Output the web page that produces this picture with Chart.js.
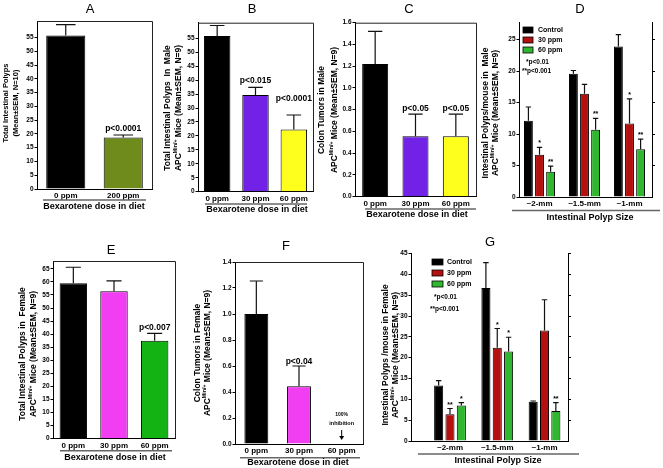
<!DOCTYPE html>
<html><head><meta charset="utf-8">
<script src="https://cdn.jsdelivr.net/npm/chart.js@4/dist/chart.umd.min.js"></script>
<style>
html,body{margin:0;padding:0;background:#fff;}
body{width:663px;height:468px;position:relative;overflow:hidden;}
canvas{position:absolute;}
</style></head><body>
<canvas id="cA"></canvas><canvas id="cB"></canvas><canvas id="cC"></canvas><canvas id="cD"></canvas>
<canvas id="cE"></canvas><canvas id="cF"></canvas><canvas id="cG"></canvas>
<script>
// ---------------- DATA ----------------
const A_cat = ['0 ppm', '200 ppm'];
const A_mean = [55.7, 18.7];
const A_sem = [4.0, 0.9];
const A_p = ['', 'p<0.0001'];

const B_cat = ['0 ppm', '30 ppm', '60 ppm'];
const B_mean = [55.8, 34.7, 22.3];
const B_sem = [3.8, 2.7, 5.2];
const B_p = ['', 'p<0.015', 'p<0.0001'];

const C_cat = ['0 ppm', '30 ppm', '60 ppm'];
const C_mean = [1.22, 0.555, 0.555];
const C_sem = [0.30, 0.205, 0.205];
const C_p = ['', 'p<0.05', 'p<0.05'];

const sizeCat = ['~2-mm', '~1.5-mm', '~1-mm'];
const seriesNames = ['Control', '30 ppm', '60 ppm'];

const D_control = [12.1, 19.6, 23.9];
const D_control_sem = [2.2, 0.5, 1.9];
const D_30 = [6.7, 16.4, 11.7];
const D_30_sem = [1.2, 1.5, 3.9];
const D_60 = [4.0, 10.7, 7.6];
const D_60_sem = [0.9, 1.8, 1.6];
const D_stars = [['', '', ''], ['*', '', '*'], ['**', '**', '**']];
const D_notes = ['*p<0.01', '**p<0.001'];

const E_cat = ['0 ppm', '30 ppm', '60 ppm'];
const E_mean = [59.5, 56.4, 37.5];
const E_sem = [6.1, 4.0, 2.8];
const E_p = ['', '', 'p<0.007'];

const F_cat = ['0 ppm', '30 ppm', '60 ppm'];
const F_mean = [1.0, 0.444, 0];
const F_sem = [0.254, 0.156, null];
const F_p = ['', 'p<0.04', ''];
const F_note = ['100%', 'inhibition'];

const G_control = [13.3, 36.7, 9.4];
const G_control_sem = [1.2, 6.1, 0.2];
const G_30 = [6.4, 22.4, 26.5];
const G_30_sem = [1.4, 4.6, 7.4];
const G_60 = [8.5, 21.5, 7.2];
const G_60_sem = [0.7, 3.4, 2.0];
const G_stars = [['', '', ''], ['**', '*', ''], ['*', '*', '**']];
const G_notes = ['*p<0.01', '**p<0.001'];

const doseTitle = 'Bexarotene dose in diet';
const sizeTitle = 'Intestinal Polyp Size';

// ---------------- STYLE ----------------
const FONT = "'Liberation Sans', Arial, Helvetica, sans-serif";
Chart.defaults.font.family = FONT;
Chart.defaults.animation = false;
const BLACK = '#000000', OLIVE = '#6f8b1c', PURPLE = '#7222e6', YELLOW = '#ffff1e',
      MAGENTA = '#f23ef2', GREEN = '#12b312', RED = '#b4100f', LGREEN = '#2fb82f';

const APC = rest => [{t: 'APC'}, {t: 'Min/+', sup: true}, {t: rest}];
const DECOR = {};

function drawRich(ctx, segs, cx, cy, size) {
  ctx.save();
  ctx.translate(cx, cy);
  ctx.rotate(-Math.PI / 2);
  ctx.textBaseline = 'middle';
  ctx.textAlign = 'left';
  ctx.fillStyle = '#000';
  let total = 0;
  const parts = segs.map(s => {
    const sz = s.sup ? size * 0.62 : size;
    ctx.font = `bold ${sz}px ${FONT}`;
    const w = ctx.measureText(s.t).width;
    total += w;
    return {s, sz, w};
  });
  let x = -total / 2;
  for (const p of parts) {
    ctx.font = `bold ${p.sz}px ${FONT}`;
    ctx.fillText(p.s.t, x, p.s.sup ? -size * 0.38 : 0);
    x += p.w;
  }
  ctx.restore();
}

const decor = {
  id: 'decor',
  afterDatasetsDraw(chart) {
    const o = DECOR[chart.canvas.id];
    if (!o) return;
    const ctx = chart.ctx, ys = chart.scales.y;
    ctx.save();
    chart.data.datasets.forEach((ds, di) => {
      const meta = chart.getDatasetMeta(di);
      meta.data.forEach((el, i) => {
        const v = ds.data[i];
        if (v == null) return;
        const e = ds.sem ? ds.sem[i] : null;
        const yv = ys.getPixelForValue(v);
        let yt = yv;
        if (e != null && e > 0) {
          yt = ys.getPixelForValue(v + e);
          const cw = el.width * o.cap;
          ctx.strokeStyle = '#111';
          ctx.lineWidth = 1.2;
          ctx.beginPath();
          ctx.moveTo(el.x, yv); ctx.lineTo(el.x, yt);
          ctx.moveTo(el.x - cw / 2, yt); ctx.lineTo(el.x + cw / 2, yt);
          ctx.stroke();
        }
        const m = ds.marks ? ds.marks[i] : '';
        if (m) {
          const gap = o.markGaps ? o.markGaps[i] : o.markGap;
          ctx.font = `bold ${o.markSize}px ${FONT}`;
          ctx.fillStyle = '#000';
          ctx.textAlign = 'center';
          ctx.textBaseline = 'alphabetic';
          ctx.fillText(m, el.x, yt - gap);
        }
      });
    });
    ctx.restore();
  },
  afterDraw(chart) {
    const o = DECOR[chart.canvas.id];
    if (!o) return;
    const ctx = chart.ctx, ca = chart.chartArea;
    ctx.save();
    if (o.frame === 'box') {
      ctx.strokeStyle = '#222';
      ctx.lineWidth = 1;
      ctx.beginPath();
      ctx.moveTo(ca.left, ca.top + 0.5);
      ctx.lineTo(ca.right + 0.5, ca.top + 0.5);
      ctx.lineTo(ca.right + 0.5, ca.bottom);
      ctx.stroke();
    }
    ctx.font = `13px ${FONT}`;
    ctx.fillStyle = '#000';
    ctx.textAlign = 'center';
    ctx.textBaseline = 'middle';
    ctx.fillText(o.letter.t, o.letter.x, o.letter.y);
    o.yTitle.lines.forEach((segs, i) => drawRich(ctx, segs, o.yTitle.xs[i], o.yTitle.y, o.yTitle.size));
    ctx.strokeStyle = '#666';
    ctx.lineWidth = 1.5;
    ctx.beginPath();
    ctx.moveTo(o.xTitle.ul[0], o.xTitle.ul[2]);
    ctx.lineTo(o.xTitle.ul[1], o.xTitle.ul[2]);
    ctx.stroke();
    ctx.font = `bold 9px ${FONT}`;
    ctx.fillStyle = '#000';
    ctx.textAlign = 'center';
    ctx.textBaseline = 'middle';
    ctx.fillText(o.xTitle.t, o.xTitle.x, o.xTitle.y);
    if (o.legend) {
      const L = o.legend;
      chart.data.datasets.forEach((ds, i) => {
        const cy = L.y0 + i * L.dy;
        ctx.fillStyle = ds.backgroundColor;
        ctx.fillRect(L.x, cy - L.sh / 2, L.sw, L.sh);
        ctx.strokeStyle = '#000';
        ctx.lineWidth = 0.8;
        ctx.strokeRect(L.x, cy - L.sh / 2, L.sw, L.sh);
        ctx.fillStyle = '#000';
        ctx.font = `bold 7px ${FONT}`;
        ctx.textAlign = 'left';
        ctx.textBaseline = 'middle';
        ctx.fillText(ds.label, L.tx, cy);
      });
    }
    if (o.notes) {
      o.notes.forEach(n => {
        ctx.fillStyle = '#000';
        ctx.font = `bold ${n.size}px ${FONT}`;
        ctx.textAlign = n.align || 'left';
        ctx.textBaseline = 'middle';
        const x = n.xIndex != null ? chart.scales.x.getPixelForValue(n.xIndex) : n.x;
        ctx.fillText(n.t, x, n.y);
      });
    }
    if (o.arrow) {
      const x = chart.scales.x.getPixelForValue(o.arrow.xIndex);
      ctx.strokeStyle = '#000';
      ctx.lineWidth = 1;
      ctx.beginPath();
      ctx.moveTo(x, o.arrow.y0); ctx.lineTo(x, o.arrow.y1 - 3);
      ctx.stroke();
      ctx.fillStyle = '#000';
      ctx.beginPath();
      ctx.moveTo(x - 2.5, o.arrow.y1 - 4); ctx.lineTo(x + 2.5, o.arrow.y1 - 4); ctx.lineTo(x, o.arrow.y1);
      ctx.closePath(); ctx.fill();
    }
    ctx.restore();
  }
};
Chart.register(decor);

function stepFilter(step, skipZero) {
  return s => {
    s.ticks = s.ticks.filter(t => (!skipZero || t.value > 0) &&
      Math.abs(t.value / step - Math.round(t.value / step)) < 1e-6);
  };
}

function mk(p) {
  const cv = document.getElementById(p.id);
  cv.width = p.W; cv.height = p.H;
  Object.assign(cv.style, {left: p.left + 'px', top: p.top + 'px', width: p.W + 'px', height: p.H + 'px'});
  DECOR[p.id] = p.decor;
  const xt = {font: {size: 8, weight: 'bold'}, color: '#000', padding: p.xpad, maxRotation: 0, autoSkip: false};
  const scales = {};
  if (p.linearX) {
    scales.x = {
      type: 'linear', min: p.xmin, max: p.xmax, offset: false,
      afterBuildTicks: s => { s.ticks = p.cats.map((_, i) => ({value: i})); },
      ticks: Object.assign({callback: v => p.cats[v]}, xt),
      grid: {display: false, drawTicks: false},
      border: {display: true, color: '#000', width: 1},
      afterFit: s => { s.height = p.xh; }
    };
  } else {
    scales.x = {
      type: 'category', offset: true, ticks: xt,
      grid: {display: false, drawTicks: false},
      border: {display: true, color: '#000', width: 1},
      afterFit: s => { s.height = p.xh; }
    };
  }
  scales.y = {
    min: 0, max: p.ymax,
    ticks: {stepSize: p.step, font: {size: 6.5, weight: 'bold'}, color: '#000', padding: 1,
            callback: v => p.dec ? v.toFixed(p.dec) : Math.round(v)},
    afterBuildTicks: stepFilter(p.step, false),
    grid: {drawOnChartArea: false, tickLength: 2.5, color: '#000', tickColor: '#000'},
    border: {display: true, color: '#000', width: 1},
    afterFit: s => { s.width = p.yw; }
  };
  if (p.rightAxis) {
    scales.y2 = {
      position: 'right', min: 0, max: p.ymax,
      ticks: {display: false, stepSize: p.step},
      afterBuildTicks: stepFilter(p.step, true),
      grid: {drawOnChartArea: false, tickLength: 3, color: '#000', tickColor: '#000'},
      border: {display: true, color: '#000', width: 1},
      afterFit: s => { s.width = 5; }
    };
  }
  return new Chart(cv, {
    type: 'bar',
    data: {labels: p.labels, datasets: p.datasets},
    options: {
      responsive: false, maintainAspectRatio: false, devicePixelRatio: 1, animation: false,
      layout: {padding: p.pad},
      plugins: {legend: {display: false}, tooltip: {enabled: false}},
      scales
    }
  });
}

function single(values, sem, marks, colors, pct) {
  return [{data: values, sem: sem, marks: marks, backgroundColor: colors, borderColor: '#000',
           borderWidth: 1, categoryPercentage: 1, barPercentage: pct}];
}
function triple(sets, catPct, barPct) {
  return sets.map(s => ({label: s[0], data: s[1], sem: s[2], marks: s[3], backgroundColor: s[4],
    borderColor: '#000', borderWidth: 1, categoryPercentage: catPct, barPercentage: barPct}));
}

// ---------------- PANELS ----------------
mk({id: 'cA', left: 0, top: 0, W: 160, H: 230, pad: {left: 17, right: 8, top: 21, bottom: 27},
  yw: 20, xh: 14, xpad: 2, ymax: 61, step: 5, labels: A_cat,
  datasets: single(A_mean, A_sem, A_p, [BLACK, OLIVE], 0.68),
  decor: {frame: 'box', cap: 0.5, markSize: 8.5, markGap: 4,
    letter: {t: 'A', x: 90, y: 9},
    yTitle: {lines: [[{t: 'Total Intestinal Polyps'}], [{t: '(Mean±SEM, N=10)'}]], xs: [6, 16], y: 103, size: 7.5},
    xTitle: {t: doseTitle, x: 94, y: 207, ul: [43, 146, 200]}}});

mk({id: 'cB', left: 160, top: 0, W: 155, H: 230, pad: {left: 18, right: 2, top: 22.7, bottom: 24.3},
  yw: 20, xh: 14, xpad: 2, ymax: 60.6, step: 5, labels: B_cat,
  datasets: single(B_mean, B_sem, B_p, [BLACK, PURPLE, YELLOW], 0.69),
  decor: {frame: 'box', cap: 0.55, markSize: 8.5, markGaps: [4, 4, 14],
    letter: {t: 'B', x: 92, y: 9},
    yTitle: {lines: [[{t: 'Total Intestinal Polyps  In  Male'}], APC(' Mice (Mean±SEM, N=9)')], xs: [8, 19], y: 108, size: 8.5},
    xTitle: {t: doseTitle, x: 97, y: 210, ul: [45, 147, 204]}}});

mk({id: 'cC', left: 315, top: 0, W: 165, H: 230, pad: {left: 18, right: 4, top: 22.7, bottom: 19.3},
  yw: 22, xh: 14, xpad: 2, ymax: 1.6, step: 0.2, dec: 1, labels: C_cat,
  datasets: single(C_mean, C_sem, C_p, [BLACK, PURPLE, YELLOW], 0.645),
  decor: {frame: 'box', cap: 0.55, markSize: 8.5, markGap: 3,
    letter: {t: 'C', x: 94, y: 9},
    yTitle: {lines: [[{t: 'Colon Tumors in Male'}], APC(' Mice (Mean±SEM, N=9)')], xs: [7, 20], y: 110, size: 8.5},
    xTitle: {t: doseTitle, x: 102, y: 215, ul: [50, 161, 209]}}});

mk({id: 'cD', left: 480, top: 0, W: 183, H: 230, pad: {left: 19, right: 6, top: 22.7, bottom: 19},
  yw: 20, xh: 14, xpad: 2, ymax: 27.7, step: 5, linearX: true, xmin: -0.456, xmax: 2.5,
  cats: sizeCat, labels: [0, 1, 2], rightAxis: true,
  datasets: triple([
    [seriesNames[0], D_control, D_control_sem, D_stars[0], BLACK],
    [seriesNames[1], D_30, D_30_sem, D_stars[1], RED],
    [seriesNames[2], D_60, D_60_sem, D_stars[2], LGREEN]], 0.74, 0.8),
  decor: {frame: 'open', cap: 0.6, markSize: 7, markGap: 2,
    letter: {t: 'D', x: 100, y: 9},
    yTitle: {lines: [[{t: 'Intestinal Polyps/mouse in  Male'}], APC(' Mice (Mean±SEM, N=9)')], xs: [6, 15.5], y: 113, size: 8.5},
    xTitle: {t: sizeTitle, x: 110, y: 217.5, ul: [32, 180, 210.5]},
    legend: {x: 43, y0: 30, dy: 10, sw: 10, sh: 6, tx: 58},
    notes: [{t: D_notes[0], x: 46, y: 62, size: 6.5}, {t: D_notes[1], x: 42, y: 71, size: 6.5}]}});

mk({id: 'cE', left: 0, top: 230, W: 180, H: 238, pad: {left: 33, right: 5, top: 31, bottom: 15.3},
  yw: 20, xh: 14, xpad: 2, ymax: 68, step: 5, labels: E_cat,
  datasets: single(E_mean, E_sem, E_p, [BLACK, MAGENTA, GREEN], 0.675),
  decor: {frame: 'box', cap: 0.55, markSize: 8.5, markGap: 3,
    letter: {t: 'E', x: 111, y: 20},
    yTitle: {lines: [[{t: 'Total Intestinal Polyps in  Female'}], APC(' Mice (Mean±SEM, N=9)')], xs: [23, 33.5], y: 124, size: 8.5},
    xTitle: {t: doseTitle, x: 115, y: 228, ul: [60, 172, 220.7]}}});

mk({id: 'cF', left: 180, top: 230, W: 190, H: 238, pad: {left: 35, right: 7, top: 32, bottom: 10},
  yw: 20, xh: 14, xpad: 2, ymax: 1.4, step: 0.2, dec: 1, labels: F_cat,
  datasets: single(F_mean, F_sem, F_p, [BLACK, MAGENTA, GREEN], 0.56),
  decor: {frame: 'box', cap: 0.55, markSize: 8.5, markGap: 2,
    letter: {t: 'F', x: 106, y: 16},
    yTitle: {lines: [[{t: 'Colon Tumors in Female'}], APC(' Mice (Mean±SEM, N=9)')], xs: [18, 28], y: 123, size: 8.5},
    xTitle: {t: doseTitle, x: 118, y: 233, ul: [60, 180, 227.7]},
    notes: [{t: F_note[0], xIndex: 2, y: 185, size: 5, align: 'center'},
            {t: F_note[1], xIndex: 2, y: 193, size: 5.5, align: 'center'}],
    arrow: {xIndex: 2, y0: 200, y1: 210}}});

mk({id: 'cG', left: 370, top: 230, W: 210, H: 238, pad: {left: 19, right: 7, top: 23.5, bottom: 13},
  yw: 22, xh: 14, xpad: 2, ymax: 45, step: 5, linearX: true, xmin: -0.825, xmax: 2.497,
  cats: sizeCat, labels: [0, 1, 2], rightAxis: true,
  datasets: triple([
    [seriesNames[0], G_control, G_control_sem, G_stars[0], BLACK],
    [seriesNames[1], G_30, G_30_sem, G_stars[1], RED],
    [seriesNames[2], G_60, G_60_sem, G_stars[2], LGREEN]], 0.72, 0.8),
  decor: {frame: 'open', cap: 0.6, markSize: 7, markGap: 2,
    letter: {t: 'G', x: 120, y: 12},
    yTitle: {lines: [[{t: 'Intestinal Polyps /mouse in Female'}], APC(' Mice (Mean±SEM, N=9)')], xs: [16, 25.5], y: 125, size: 8.5},
    xTitle: {t: sizeTitle, x: 128, y: 231, ul: [48, 209, 224]},
    legend: {x: 62, y0: 32, dy: 11, sw: 11, sh: 6, tx: 77},
    notes: [{t: G_notes[0], x: 64, y: 67, size: 6.5}, {t: G_notes[1], x: 60, y: 79, size: 6.5}]}});
</script>
</body></html>
